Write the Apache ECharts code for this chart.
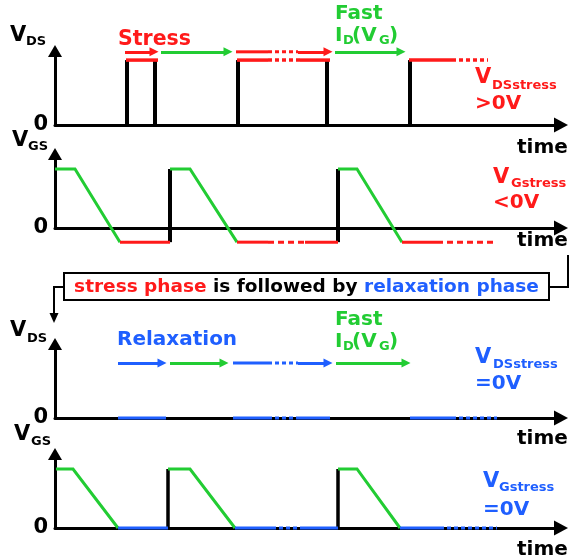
<!DOCTYPE html>
<html><head><meta charset="utf-8">
<script src="https://cdn.jsdelivr.net/npm/echarts@6/dist/echarts.min.js"></script>
<style>html,body{margin:0;padding:0;background:#fff}#c{width:570px;height:558px}</style>
</head><body><div id="c"></div>
<script>
const RED = '#ff1a1a', GREEN = '#22cc33', BLUE = '#1f5fff', BLACK = '#000';
const FONT = '"DejaVu Sans", Verdana, sans-serif';

// axes
const tickLabels = ['0'];
const timeMax = 101.2;
const levelMax = 1.254;

// Panel 1: V_DS during stress (VDSstress > 0)
const p1Black = [[[14.4,0],[14.4,1.1]], [[20,1.1],[20,0]], [[36.6,0],[36.6,1.1]], [[54.4,1.1],[54.4,0]], [[71,0],[71,1.1]]];
const p1RedSolid = [[[14.2,1.1],[20.6,1.1]], [[36.4,1.1],[42.6,1.1]], [[49,1.1],[55,1.1]], [[70.8,1.1],[79.4,1.1]]];
const p1RedDotted = [[[42.6,1.1],[49,1.1]], [[79.4,1.1],[86.6,1.1]]];
const p1RedArrows = [[[14,1.24],[19.8,1.24]], [[48.6,1.24],[54.6,1.24]]];
const p1RedRow = [[[36.2,1.24],[42.6,1.24]]];
const p1RedRowDotted = [[[42.6,1.24],[48.6,1.24]]];
const p1GreenArrows = [[[21.2,1.24],[34.6,1.24]], [[56,1.24],[69.2,1.24]]];

// Panel 2: V_GS during stress (VGstress < 0)
const p2Green = [[[0,1],[4,1],[13,-0.24]], [[23,1],[27,1],[36.4,-0.24]], [[56.6,1],[60.4,1],[69.4,-0.24]]];
const p2RedSolid = [[[13,-0.24],[23,-0.24]], [[36.4,-0.24],[42.6,-0.24]], [[50,-0.24],[56.6,-0.24]], [[69.4,-0.24],[76.4,-0.24]]];
const p2RedDotted = [[[42.6,-0.24],[50,-0.24]], [[76.4,-0.24],[88.4,-0.24]]];
const p2Black = [[[23,-0.24],[23,1]], [[56.6,-0.24],[56.6,1]]];

// Panel 3: V_DS during relaxation (VDSstress = 0)
const p3BlueArrows = [[[12.6,0.93],[21.4,0.93]], [[48.6,0.93],[54.6,0.93]]];
const p3BlueRow = [[[35.6,0.93],[42.6,0.93]]];
const p3BlueRowDotted = [[[42.6,0.93],[48.6,0.93]]];
const p3GreenArrows = [[[23,0.93],[33.8,0.93]], [[56.2,0.93],[70.2,0.93]]];
const p3BlueBase = [[[12.6,0],[22.2,0]], [[35.6,0],[42.6,0]], [[48.6,0],[55,0]], [[71,0],[79.4,0]]];
const p3BlueBaseDotted = [[[42.6,0],[48.6,0]], [[79.4,0],[88.4,0]]];

// Panel 4: V_GS during relaxation (VGstress = 0)
const p4Green = [[[0.2,1],[3.6,1],[12.6,0]], [[22.6,1],[27,1],[36,0]], [[56.6,1],[60.4,1],[69,0]]];
const p4BlueSolid = [[[12.6,0],[22.6,0]], [[36,0],[43.4,0]], [[49,0],[56.6,0]], [[69,0],[77,0]]];
const p4BlueDotted = [[[43.4,0],[49,0]], [[77,0],[88.4,0]]];
const p4Black = [[[22.6,0],[22.6,1]], [[56.6,0],[56.6,1]]];

const gridTops = [51, 154, 344, 454];

const grids = gridTops.map(t => ({left: 55, top: t, width: 506, height: 74, containLabel: false, outerBoundsMode: 'none'}));
const xAxes = gridTops.map((t, i) => ({
  type: 'value', gridIndex: i, min: 0, max: timeMax,
  axisLine: {show: true, onZero: false, symbol: ['none', 'triangle'], symbolSize: [15, 14], lineStyle: {color: BLACK, width: 3}},
  axisTick: {show: false}, axisLabel: {show: false}, splitLine: {show: false}
}));
const yAxes = gridTops.map((t, i) => ({
  type: 'value', gridIndex: i, min: 0, max: levelMax, interval: 1,
  axisLine: {show: true, onZero: false, symbol: ['none', 'triangle'], symbolSize: [14, 12], lineStyle: {color: BLACK, width: 3}},
  axisTick: {show: false}, splitLine: {show: false},
  axisLabel: {show: true, showMaxLabel: false, margin: 7, color: BLACK, fontSize: 21, fontWeight: 'bold', fontFamily: FONT,
    formatter: v => (v === 0 ? tickLabels[0] : '')}
}));

function seg(g, segs, color, width, dash, arrow) {
  return {
    type: 'lines', coordinateSystem: 'cartesian2d', xAxisIndex: g, yAxisIndex: g,
    polyline: true, clip: false, silent: true, animation: false,
    symbol: arrow ? ['none', 'triangle'] : ['none', 'none'], symbolSize: 9,
    lineStyle: {color: color, width: width, type: dash || 'solid', opacity: 1, curveness: 0, cap: 'butt'},
    data: segs.map(c => ({coords: c}))
  };
}
function arrows(g, segs, color) {
  const s = seg(g, segs, color, 3, null, true);
  s.polyline = false;
  return s;
}

const series = [
  seg(0, p1Black, BLACK, 4),
  seg(0, p1RedSolid, RED, 3.5),
  seg(0, p1RedDotted, RED, 3.5, [4, 3]),
  arrows(0, p1RedArrows, RED),
  seg(0, p1RedRow, RED, 3),
  seg(0, p1RedRowDotted, RED, 3, [4, 3]),
  arrows(0, p1GreenArrows, GREEN),

  seg(1, p2Black, BLACK, 4),
  seg(1, p2Green, GREEN, 3),
  seg(1, p2RedSolid, RED, 3),
  seg(1, p2RedDotted, RED, 3, [6, 4]),

  arrows(2, p3BlueArrows, BLUE),
  seg(2, p3BlueRow, BLUE, 3),
  seg(2, p3BlueRowDotted, BLUE, 3, [4, 3]),
  arrows(2, p3GreenArrows, GREEN),
  seg(2, p3BlueBase, BLUE, 3),
  seg(2, p3BlueBaseDotted, BLUE, 3, [4, 3]),

  seg(3, p4Black, BLACK, 3.5),
  seg(3, p4Green, GREEN, 3),
  seg(3, p4BlueSolid, BLUE, 3),
  seg(3, p4BlueDotted, BLUE, 3, [4, 3])
];

function txt(x, y, s, size, color, align) {
  return {type: 'text', x: x, y: y, z: 100, silent: true,
    style: {text: s, font: 'bold ' + size + 'px ' + FONT, fill: color, align: align || 'left', verticalAlign: 'middle'}};
}
function rt(color) { return {fill: color, fontSize: 18.5, fontWeight: 'bold', fontFamily: FONT}; }

const graphic = [
  // axis names
  txt(10, 36, 'V', 21, BLACK), txt(26, 42, 'DS', 13, BLACK),
  txt(12, 141, 'V', 21, BLACK), txt(28, 147, 'GS', 13, BLACK),
  txt(10, 331, 'V', 21, BLACK), txt(27, 339, 'DS', 13, BLACK),
  txt(14, 435, 'V', 21, BLACK), txt(31, 442, 'GS', 13, BLACK),
  // time labels
  txt(517, 148, 'time', 20, BLACK), txt(517, 241, 'time', 20, BLACK),
  txt(517, 439, 'time', 20, BLACK), txt(517, 550, 'time', 20, BLACK),
  // stress panel annotations
  txt(118, 40, 'Stress', 20.5, RED),
  txt(335, 14, 'Fast', 20, GREEN),
  txt(335, 36, 'I', 20, GREEN), txt(343, 41, 'D', 13, GREEN), txt(352, 36, '(V', 20, GREEN), txt(379, 41, 'G', 13, GREEN), txt(389, 36, ')', 20, GREEN),
  txt(475, 78, 'V', 21, RED), txt(492, 86, 'DSstress', 13, RED), txt(475, 104, '>0V', 20, RED),
  txt(493, 178, 'V', 21, RED), txt(511, 184, 'Gstress', 13, RED), txt(493, 203, '<0V', 20, RED),
  // relaxation panel annotations
  txt(117, 340, 'Relaxation', 20, BLUE),
  txt(335, 320, 'Fast', 20, GREEN),
  txt(335, 342, 'I', 20, GREEN), txt(343, 347, 'D', 13, GREEN), txt(352, 342, '(V', 20, GREEN), txt(379, 347, 'G', 13, GREEN), txt(389, 342, ')', 20, GREEN),
  txt(475, 358, 'V', 21, BLUE), txt(493, 365, 'DSstress', 13, BLUE), txt(475, 384, '=0V', 20, BLUE),
  txt(483, 482, 'V', 21, BLUE), txt(499, 488, 'Gstress', 13, BLUE), txt(483, 510, '=0V', 20, BLUE),
  // banner connectors
  {type: 'polyline', z: 90, silent: true, shape: {points: [[64, 287], [54, 287], [54, 316]]}, style: {stroke: BLACK, lineWidth: 2, fill: null}},
  {type: 'polygon', z: 90, silent: true, shape: {points: [[49.5, 313], [58.5, 313], [54, 323]]}, style: {fill: BLACK}},
  {type: 'polyline', z: 90, silent: true, shape: {points: [[549, 287], [568, 287], [568, 255]]}, style: {stroke: BLACK, lineWidth: 2, fill: null}},
  {type: 'rect', z: 95, silent: true, shape: {x: 64, y: 273, width: 485, height: 27}, style: {fill: '#fff', stroke: BLACK, lineWidth: 2}},
  {type: 'text', z: 100, silent: true, x: 306.5, y: 287,
    style: {text: '{r|stress phase}{k| is followed by }{b|relaxation phase}', align: 'center', verticalAlign: 'middle',
      font: 'bold 18.5px ' + FONT, rich: {r: rt(RED), k: rt(BLACK), b: rt(BLUE)}}}
];

const chart = echarts.init(document.getElementById('c'), null, {renderer: 'canvas'});
chart.setOption({animation: false, grid: grids, xAxis: xAxes, yAxis: yAxes, series: series, graphic: graphic});
</script></body></html>
